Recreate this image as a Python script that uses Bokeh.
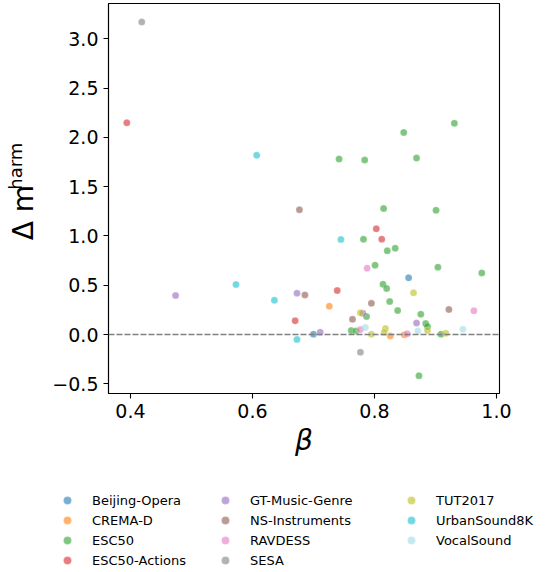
import math
from bokeh.plotting import figure
from bokeh.layouts import column, row
from bokeh.models import Range1d, FixedTicker, Span, Legend, LegendItem, Label
from bokeh.embed import file_html
from bokeh.resources import INLINE

# ---- data (beta, delta m_harm) per dataset ----
datasets = ["Beijing-Opera", "CREMA-D", "ESC50", "ESC50-Actions", "GT-Music-Genre",
            "NS-Instruments", "RAVDESS", "SESA", "TUT2017", "UrbanSound8K", "VocalSound"]
colors = ["#1f77b4", "#ff7f0e", "#2ca02c", "#d62728", "#9467bd",
          "#8c564b", "#e377c2", "#7f7f7f", "#bcbd22", "#17becf", "#9edae5"]

beijing_x = [0.856, 0.700]
beijing_y = [0.575, 0.003]
crema_x = [0.726, 0.826, 0.849]
crema_y = [0.287, -0.014, -0.003]
esc50_x = [0.931, 0.848, 0.742, 0.784, 0.869, 0.815, 0.901, 0.782, 0.834, 0.821, 0.801, 0.904,
           0.976, 0.814, 0.820, 0.825, 0.838, 0.787, 0.876, 0.884, 0.887, 0.762, 0.770, 0.909, 0.873]
esc50_y = [2.143, 2.050, 1.780, 1.770, 1.790, 1.278, 1.260, 0.967, 0.875, 0.849, 0.703, 0.683,
           0.625, 0.510, 0.467, 0.335, 0.243, 0.183, 0.206, 0.111, 0.081, 0.040, 0.037, 0.003, -0.419]
escact_x = [0.394, 0.803, 0.812, 0.739, 0.670]
escact_y = [2.147, 1.072, 0.967, 0.446, 0.139]
gtmusic_x = [0.474, 0.673, 0.781, 0.869, 0.711]
gtmusic_y = [0.396, 0.419, 0.216, 0.118, 0.023]
nsinst_x = [0.677, 0.686, 0.795, 0.764, 0.922]
nsinst_y = [1.265, 0.402, 0.317, 0.155, 0.254]
ravdess_x = [0.788, 0.963, 0.777, 0.854]
ravdess_y = [0.673, 0.240, 0.050, 0.007]
sesa_x = [0.4185, 0.777]
sesa_y = [3.170, -0.180]
tut_x = [0.864, 0.777, 0.887, 0.818, 0.816, 0.795, 0.917]
tut_y = [0.423, 0.220, 0.040, 0.061, 0.020, 0.003, 0.013]
urban_x = [0.607, 0.745, 0.573, 0.636, 0.673]
urban_y = [1.818, 0.963, 0.507, 0.348, -0.050]
vocal_x = [0.785, 0.871, 0.945]
vocal_y = [0.071, 0.037, 0.054]

xs = [beijing_x, crema_x, esc50_x, escact_x, gtmusic_x, nsinst_x, ravdess_x, sesa_x, tut_x, urban_x, vocal_x]
ys = [beijing_y, crema_y, esc50_y, escact_y, gtmusic_y, nsinst_y, ravdess_y, sesa_y, tut_y, urban_y, vocal_y]

x_ticks = [0.4, 0.6, 0.8, 1.0]
y_ticks = [-0.5, 0.0, 0.5, 1.0, 1.5, 2.0, 2.5, 3.0]

FONT = "DejaVu Sans"
LAB_W = 40
MAIN_W, MAIN_H = 500, 470
LEG_H = 100
TOTAL_W = LAB_W + MAIN_W

MARK = dict(size=7, fill_alpha=0.6, line_color="white", line_width=0.4, line_alpha=0.6)


def bare(fig):
    fig.grid.visible = False
    fig.outline_line_color = None
    fig.background_fill_color = "white"
    fig.border_fill_color = "white"


# ---------- main scatter ----------
frame_left, frame_right, frame_top, frame_bottom = 108, 499, 3, 393
p = figure(width=MAIN_W, height=MAIN_H, output_backend="svg", toolbar_location=None,
           x_range=Range1d(0.364, 1.005), y_range=Range1d(-0.598, 3.357),
           min_border_left=frame_left - LAB_W, min_border_right=TOTAL_W - frame_right,
           min_border_top=frame_top, min_border_bottom=MAIN_H - frame_bottom, title=None)
p.grid.visible = False
p.outline_line_color = "black"
p.outline_line_width = 1.1
p.background_fill_color = "white"
p.border_fill_color = "white"

for ax in (p.xaxis[0], p.yaxis[0]):
    ax.axis_line_color = "black"
    ax.axis_line_width = 1.1
    ax.major_tick_line_color = "black"
    ax.major_tick_line_width = 1.1
    ax.major_tick_out = 5
    ax.major_tick_in = 0
    ax.minor_tick_line_color = None
    ax.major_label_text_font = FONT
    ax.major_label_text_font_size = "19px"
    ax.major_label_text_color = "black"
    ax.major_label_standoff = 5

p.xaxis.ticker = FixedTicker(ticks=x_ticks)
p.yaxis.ticker = FixedTicker(ticks=y_ticks)
p.xaxis.major_label_overrides = {t: f"{t:.1f}" for t in x_ticks}
p.yaxis.major_label_overrides = {t: f"{t:.1f}".replace("-", "\u2212") for t in y_ticks}

p.xaxis.axis_label = "\u03b2"
p.xaxis.axis_label_text_font = FONT
p.xaxis.axis_label_text_font_style = "italic"
p.xaxis.axis_label_text_font_size = "28px"
p.xaxis.axis_label_text_color = "black"
p.xaxis.axis_label_standoff = 3

p.add_layout(Span(location=0, dimension="width", line_color="#808080",
                  line_width=1.4, line_dash="6 2"))

for name, c, x, y in zip(datasets, colors, xs, ys):
    p.scatter(x, y, fill_color=c, **MARK)

# ---------- y-axis label strip (no axes: the frame is the whole strip) ----------
lab = figure(width=LAB_W, height=MAIN_H, output_backend="svg", toolbar_location=None,
             x_range=Range1d(0, LAB_W), y_range=Range1d(0, MAIN_H),
             x_axis_location=None, y_axis_location=None, min_border=0, title=None)
bare(lab)
lab.add_layout(Label(x=23, y=MAIN_H - 252, text="\u0394 m", angle=math.pi / 2,
                     text_align="center", text_baseline="middle", text_font=FONT,
                     text_font_size="28px", text_color="black"))
lab.add_layout(Label(x=15, y=MAIN_H - 196, text="harm", angle=math.pi / 2,
                     text_align="center", text_baseline="middle", text_font=FONT,
                     text_font_size="18px", text_color="black"))

# ---------- legend strip ----------
# The key figure's ranges lie away from the data, so its copies of the points stay out of view;
# they exist only so that each legend entry can draw its marker.
leg = figure(width=TOTAL_W, height=LEG_H, output_backend="svg", toolbar_location=None,
             x_range=Range1d(10, 10 + TOTAL_W), y_range=Range1d(10, 10 + LEG_H),
             x_axis_location=None, y_axis_location=None, min_border=0, title=None)
bare(leg)
key_renderers = [leg.scatter(x, y, fill_color=c, **MARK) for c, x, y in zip(colors, xs, ys)]

columns_spec = [(0, 4, 57), (4, 8, 215), (8, 11, 401)]
legend_top = 20
for a, b, left in columns_spec:
    n = b - a
    h = 20 * n
    items = [LegendItem(label=datasets[i], renderers=[key_renderers[i]]) for i in range(a, b)]
    lg = Legend(items=items, location=(left, LEG_H - legend_top - h), orientation="vertical",
                border_line_color=None, background_fill_alpha=0, padding=0, margin=0,
                spacing=0, glyph_width=20, glyph_height=20, label_height=20,
                label_standoff=15, label_text_font=FONT, label_text_font_size="13px",
                label_text_color="black")
    leg.add_layout(lg)

layout = column(row(lab, p, spacing=0), leg, spacing=0)
open("out.html", "w").write(file_html(layout, INLINE))
